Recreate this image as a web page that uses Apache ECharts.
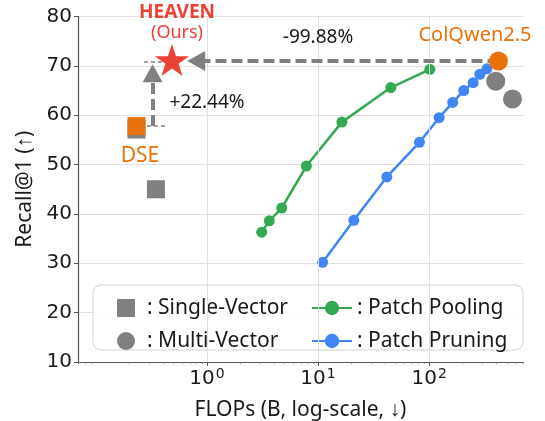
<!DOCTYPE html>
<html>
<head>
<meta charset="utf-8">
<script src="https://cdn.jsdelivr.net/npm/echarts@6/dist/echarts.min.js"></script>
<style>html,body{margin:0;padding:0;background:#fff}#c{width:545px;height:421px}</style>
</head>
<body>
<div id="c"></div>
<script>
// ---- data (FLOPs in billions, Recall@1 in %) ----
const poolFlops   = [3.11, 3.64, 4.71, 7.85, 16.4, 45.2, 101.5];
const poolRecall  = [36.3, 38.6, 41.2, 49.7, 58.6, 65.6, 69.3];
const pruneFlops  = [11.0, 21.0, 41.6, 81.8, 123, 163, 205, 249, 286, 331];
const pruneRecall = [30.2, 38.7, 47.5, 54.5, 59.5, 62.6, 65.0, 66.6, 68.3, 69.4];
const singleFlops = [0.232, 0.347];
const singleRecall= [57.1, 45.0];
const multiFlops  = [398, 563];
const multiRecall = [66.9, 63.3];
const dsePoint     = [0.232, 57.8];
const colqwenPoint = [421, 71.0];
const heavenPoint  = [0.484, 71.2];
const xMajorTicks  = [1, 10, 100];
const xMinorTicks  = [0.07,0.08,0.09,0.2,0.3,0.4,0.5,0.6,0.7,0.8,0.9,2,3,4,5,6,7,8,9,20,30,40,50,60,70,80,90,200,300,400,500,600,700];
// annotation arrows (data space)
const arrowH  = [[421, 71.0], [0.80, 71.0]];
const arrowV  = [[0.324, 57.8], [0.324, 68.5]];
const refTop  = [[0.271, 70.85], [0.402, 70.85]];
const refBot  = [[0.288, 57.8], [0.418, 57.8]];

const GRAY = '#808080', GREEN = '#34A853', BLUE = '#4285F4', ORANGE = '#E8710A', RED = '#EA4335';
const zip = (a, b) => a.map((v, i) => [v, b[i]]);
const STAR = 'path://M50,0 L61.8,35.1 L98.9,35.1 L68.9,56.8 L80.3,91.9 L50,70.2 L19.7,91.9 L31.1,56.8 L1.1,35.1 L38.2,35.1 Z';

const chart = echarts.init(document.getElementById('c'), null, {renderer: 'canvas'});
const TXT = '#1a1a1a';
const sansFont = 'Noto Sans';

chart.setOption({
  animation: false,
  backgroundColor: '#fff',
  grid: {left: 78, right: 22, top: 16.5, bottom: 59, containLabel: false, outerBoundsMode: 'none'},
  xAxis: [{
    type: 'log', logBase: 10, min: 0.069, max: 700,
    axisLine: {lineStyle: {color: '#555', width: 1.2}},
    axisTick: {customValues: xMajorTicks, length: 4, lineStyle: {color: '#555', width: 1}},
    axisLabel: {
      customValues: xMajorTicks, margin: 5,
      formatter: v => '{b|10}{s|' + Math.round(Math.log10(v)) + '}',
      rich: {
        b: {fontSize: 20, fontFamily: 'DejaVu Sans', color: TXT},
        s: {fontSize: 14, fontFamily: 'DejaVu Sans', color: TXT, verticalAlign: 'top', padding: [0, 0, 9, 1]}
      }
    },
    splitLine: {show: false},
    name: 'FLOPs (B, log-scale, \u2193)', nameLocation: 'middle', nameGap: 38,
    nameTextStyle: {fontFamily: sansFont, fontSize: 21, color: TXT}
  }, {
    type: 'log', logBase: 10, min: 0.069, max: 700, position: 'bottom',
    axisLine: {show: false}, axisLabel: {show: false}, splitLine: {show: false},
    axisTick: {customValues: xMinorTicks, length: 2, lineStyle: {color: '#777', width: 0.8}}
  }],
  yAxis: {
    type: 'value', min: 10, max: 80, interval: 10,
    axisLine: {show: true, lineStyle: {color: '#555', width: 1.2}},
    axisTick: {show: true, length: 4, lineStyle: {color: '#555'}},
    axisLabel: {fontFamily: 'DejaVu Sans', fontSize: 20, color: TXT, margin: 6},
    splitLine: {lineStyle: {color: '#e0e0e0', width: 1}},
    name: 'Recall@1 (\u2191)', nameLocation: 'middle', nameGap: 41,
    nameTextStyle: {fontFamily: sansFont, fontSize: 21, color: TXT}
  },
  legend: [{
    orient: 'vertical', left: 112, top: 292.5, itemWidth: 18, itemHeight: 18, itemGap: 12,
    selectedMode: false,
    data: [{name: 'Single-Vector', icon: 'rect'}, {name: 'Multi-Vector', icon: 'circle'}],
    formatter: n => ': ' + n,
    textStyle: {fontFamily: sansFont, fontSize: 21, lineHeight: 18, color: TXT, padding: [0, 0, 0, 7]}
  }, {
    orient: 'vertical', left: 306, top: 292.5, itemWidth: 40, itemHeight: 18, itemGap: 12,
    selectedMode: false,
    data: ['Patch Pooling', 'Patch Pruning'],
    formatter: n => ': ' + n,
    textStyle: {fontFamily: sansFont, fontSize: 21, lineHeight: 18, color: TXT}
  }],
  graphic: [
    {type: 'rect', z: 3, zlevel: 0, shape: {x: 93, y: 285, width: 430, height: 65, r: 8},
     style: {fill: 'rgba(255,255,255,0.9)', stroke: '#d4d4d4', lineWidth: 1}},
    {type: 'text', z: 10, style: {text: 'HEAVEN', x: 177, y: 13, align: 'center', verticalAlign: 'middle', fill: RED, font: 'bold 19px "Noto Sans"'}},
    {type: 'text', z: 10, style: {text: '(Ours)', x: 177, y: 33, align: 'center', verticalAlign: 'middle', fill: RED, font: '18px "Noto Sans"'}},
    {type: 'text', z: 10, style: {text: '-99.88%', x: 318, y: 38, align: 'center', verticalAlign: 'middle', fill: TXT, font: '19px "Noto Sans"'}},
    {type: 'text', z: 10, style: {text: 'ColQwen2.5', x: 475, y: 35, align: 'center', verticalAlign: 'middle', fill: ORANGE, font: '20px "Noto Sans"'}},
    {type: 'text', z: 10, style: {text: '+22.44%', x: 207, y: 103, align: 'center', verticalAlign: 'middle', fill: TXT, font: '19px "Noto Sans"'}},
    {type: 'text', z: 10, style: {text: 'DSE', x: 140, y: 156, align: 'center', verticalAlign: 'middle', fill: ORANGE, font: '21px "Noto Sans"'}}
  ],
  series: [
    { // vertical grid lines at decades
      type: 'scatter', data: [], z: 0, silent: true,
      markLine: {silent: true, symbol: 'none', label: {show: false},
        lineStyle: {color: '#e0e0e0', width: 1, type: 'solid'},
        data: xMajorTicks.map(v => ({xAxis: v}))}
    },
    { // thin reference dashes
      type: 'scatter', data: [], z: 2, silent: true,
      markLine: {silent: true, symbol: 'none', label: {show: false},
        lineStyle: {color: GRAY, width: 1.5, type: [4, 3]},
        data: [[{coord: refTop[0]}, {coord: refTop[1]}], [{coord: refBot[0]}, {coord: refBot[1]}]]}
    },
    { // arrows
      type: 'scatter', data: [], z: 3, silent: true,
      markLine: {silent: true, symbol: ['none', 'triangle'], symbolSize: [20, 18], label: {show: false},
        lineStyle: {color: GRAY, width: 4, type: [11, 5], opacity: 1},
        data: [[{coord: arrowH[0]}, {coord: arrowH[1]}], [{coord: arrowV[0]}, {coord: arrowV[1]}]]}
    },
    {name: 'Patch Pooling', type: 'line', z: 4, data: zip(poolFlops, poolRecall),
     symbol: 'circle', symbolSize: 11, lineStyle: {color: GREEN, width: 2.5}, itemStyle: {color: GREEN}},
    {name: 'Patch Pruning', type: 'line', z: 4, data: zip(pruneFlops, pruneRecall),
     symbol: 'circle', symbolSize: 11, lineStyle: {color: BLUE, width: 2.5}, itemStyle: {color: BLUE}},
    {name: 'Single-Vector', type: 'scatter', z: 4, data: zip(singleFlops, singleRecall),
     symbol: 'rect', symbolSize: 18, itemStyle: {color: GRAY, opacity: 1}},
    {name: 'Multi-Vector', type: 'scatter', z: 4, data: zip(multiFlops, multiRecall),
     symbol: 'circle', symbolSize: 19, itemStyle: {color: GRAY, opacity: 1}},
    {name: 'DSE', type: 'scatter', z: 5, data: [dsePoint],
     symbol: 'rect', symbolSize: 18, itemStyle: {color: ORANGE, opacity: 1}},
    {name: 'ColQwen2.5', type: 'scatter', z: 5, data: [colqwenPoint],
     symbol: 'circle', symbolSize: 19, itemStyle: {color: ORANGE, opacity: 1}},
    {name: 'HEAVEN', type: 'scatter', z: 6, data: [heavenPoint],
     symbol: STAR, symbolSize: [34, 32], itemStyle: {color: RED, opacity: 1}}
  ]
});
</script>
</body>
</html>
